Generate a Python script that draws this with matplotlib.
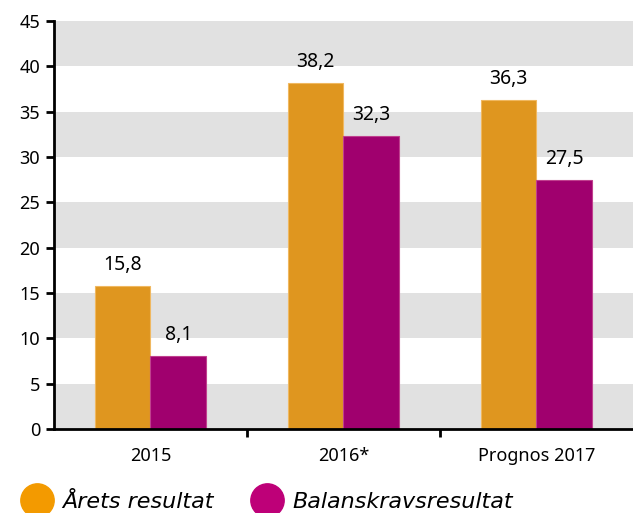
import matplotlib.pyplot as plt
from matplotlib.lines import Line2D
import numpy as np

categories = ['2015', '2016*', 'Prognos 2017']
arets_resultat = [15.8, 38.2, 36.3]
balanskravsresultat = [8.1, 32.3, 27.5]
series_names = ['Årets resultat', 'Balanskravsresultat']

bar_colors = ['#DF961F', '#A0006E']
edge_colors = ['#F0B860', '#C0408E']
legend_colors = ['#F39A00', '#BE0078']

plt.rcParams['font.family'] = ['Noto Sans', 'DejaVu Sans']
plt.rcParams['font.size'] = 13

fig = plt.figure(figsize=(6.33, 5.13), dpi=100)
ax = fig.add_axes([0.0853, 0.1637, 0.9147, 0.7953])

x = np.arange(len(categories))
w = 0.29

# grey bands
for lo in range(0, 45, 10):
    ax.axhspan(lo, lo + 5, color='#E1E1E1', lw=0, zorder=0)

b1 = ax.bar(x - w / 2, arets_resultat, w, color=bar_colors[0],
            edgecolor=edge_colors[0], linewidth=0.8, zorder=2)
b2 = ax.bar(x + w / 2, balanskravsresultat, w, color=bar_colors[1],
            edgecolor=edge_colors[1], linewidth=0.8, zorder=2)

for bars, vals in [(b1, arets_resultat), (b2, balanskravsresultat)]:
    for b, v in zip(bars, vals):
        ax.annotate(f'{v:.1f}'.replace('.', ','),
                    (b.get_x() + b.get_width() / 2, v),
                    xytext=(0, 11.5), textcoords='offset points',
                    ha='center', va='baseline', fontsize=14)

ax.set_xlim(-0.5, 2.5)
ax.set_ylim(0, 45)
ax.set_yticks(range(0, 46, 5))
ax.set_xticks([0.5, 1.5])
ax.set_xticklabels([])
ax.set_xticks(x, minor=True)
ax.set_xticklabels(categories, minor=True)
ax.tick_params(axis='x', which='minor', length=0, pad=13)
ax.tick_params(axis='x', which='major', length=6, width=2)
ax.tick_params(axis='y', length=6, width=2, pad=4)

for s in ['top', 'right']:
    ax.spines[s].set_visible(False)
for s in ['left', 'bottom']:
    ax.spines[s].set_linewidth(2)

handles = [Line2D([], [], marker='o', ls='', markersize=24,
                  markerfacecolor=c, markeredgecolor=c) for c in legend_colors]
fig.legend(handles, series_names, loc='center left', bbox_to_anchor=(0.0324, 0.022),
           ncol=2, frameon=False,
           prop={'family': 'DejaVu Sans', 'style': 'italic', 'size': 16},
           borderpad=0, borderaxespad=0,
           handletextpad=0.38, columnspacing=1.64, handlelength=1.5)

plt.savefig('out.png', dpi=100)
